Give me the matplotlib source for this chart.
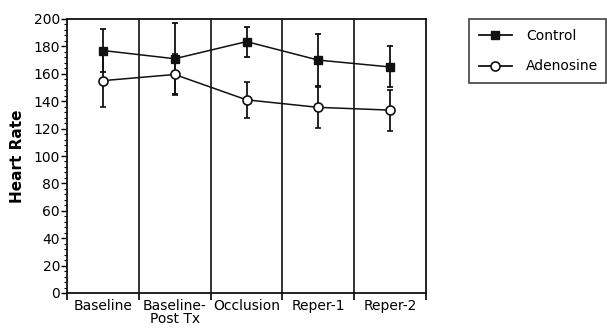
import matplotlib
matplotlib.use("Agg")
import matplotlib.pyplot as plt
from matplotlib.ticker import MultipleLocator, AutoMinorLocator, FixedLocator
from matplotlib.lines import Line2D
import numpy as np

categories = ["Baseline", "Baseline-\nPost Tx", "Occlusion", "Reper-1", "Reper-2"]
control = [177, 171, 183.5, 170, 165]
control_err = [16, 26, 11, 19, 15]
adenosine = [155, 159.5, 141, 135.5, 133.5]
adenosine_err = [19.5, 15, 13, 15, 15]

plt.rcParams['font.family'] = ['DejaVu Sans']

fig = plt.figure(figsize=(6.07, 3.34), dpi=100)
ax = fig.add_axes([67/607, 1-293/334, (426-67)/607, (293-19)/334])

x = np.arange(len(categories))
lc = "#111111"
ax.errorbar(x, control, yerr=control_err, color=lc, marker='s', markersize=6,
            markerfacecolor=lc, markeredgecolor=lc, lw=1.1, elinewidth=1.3,
            capsize=2.5, capthick=1.3, zorder=3)
ax.errorbar(x, adenosine, yerr=adenosine_err, color=lc, marker='o', markersize=6.5,
            markerfacecolor='white', markeredgecolor=lc, markeredgewidth=1.2, lw=1.1,
            elinewidth=1.3, capsize=2.5, capthick=1.3, zorder=3)

# divider lines between categories
for b in x[:-1] + 0.5:
    ax.axvline(b, color=lc, lw=1.2, zorder=1)

ax.set_xlim(-0.5, len(categories) - 0.5)
ax.set_ylim(0, 200)
ax.yaxis.set_major_locator(MultipleLocator(20))
ax.yaxis.set_minor_locator(AutoMinorLocator(5))
ax.xaxis.set_major_locator(FixedLocator(list(np.arange(-0.5, len(categories), 1.0))))
ax.xaxis.set_major_formatter(plt.NullFormatter())
ax.xaxis.set_minor_locator(FixedLocator(list(x)))
ax.set_xticklabels(categories, minor=True)
ax.tick_params(axis='x', which='minor', length=0, labelsize=10, pad=4)
ax.tick_params(axis='x', which='major', length=5, width=1.2, direction='out')
ax.tick_params(axis='y', which='major', length=4, width=1.0, labelsize=10, pad=1)
ax.tick_params(axis='y', which='minor', length=2.5, width=0.8)
for lab in ax.get_xticklabels(minor=True):
    lab.set_linespacing(0.95)

for s in ax.spines.values():
    s.set_linewidth(1.3)
    s.set_color(lc)

ax.set_ylabel("Heart Rate", fontsize=11, fontweight='bold', labelpad=6)

handles = [
    Line2D([], [], color=lc, lw=1.3, marker='s', markersize=6,
           markerfacecolor=lc, markeredgecolor=lc, label="Control"),
    Line2D([], [], color=lc, lw=1.3, marker='o', markersize=6.5,
           markerfacecolor='white', markeredgecolor=lc, markeredgewidth=1.2,
           label="Adenosine"),
]
leg = fig.legend(handles=handles, loc='upper left',
                 bbox_to_anchor=(469/607, 1-82/334, 137/607, 63/334), mode='expand',
                 frameon=True, fancybox=False, edgecolor=lc, fontsize=10,
                 handlelength=2.4, handletextpad=1.0, borderpad=0.7,
                 labelspacing=1.2, borderaxespad=0)
leg.get_frame().set_linewidth(1.2)

fig.savefig("out.png", dpi=100)
